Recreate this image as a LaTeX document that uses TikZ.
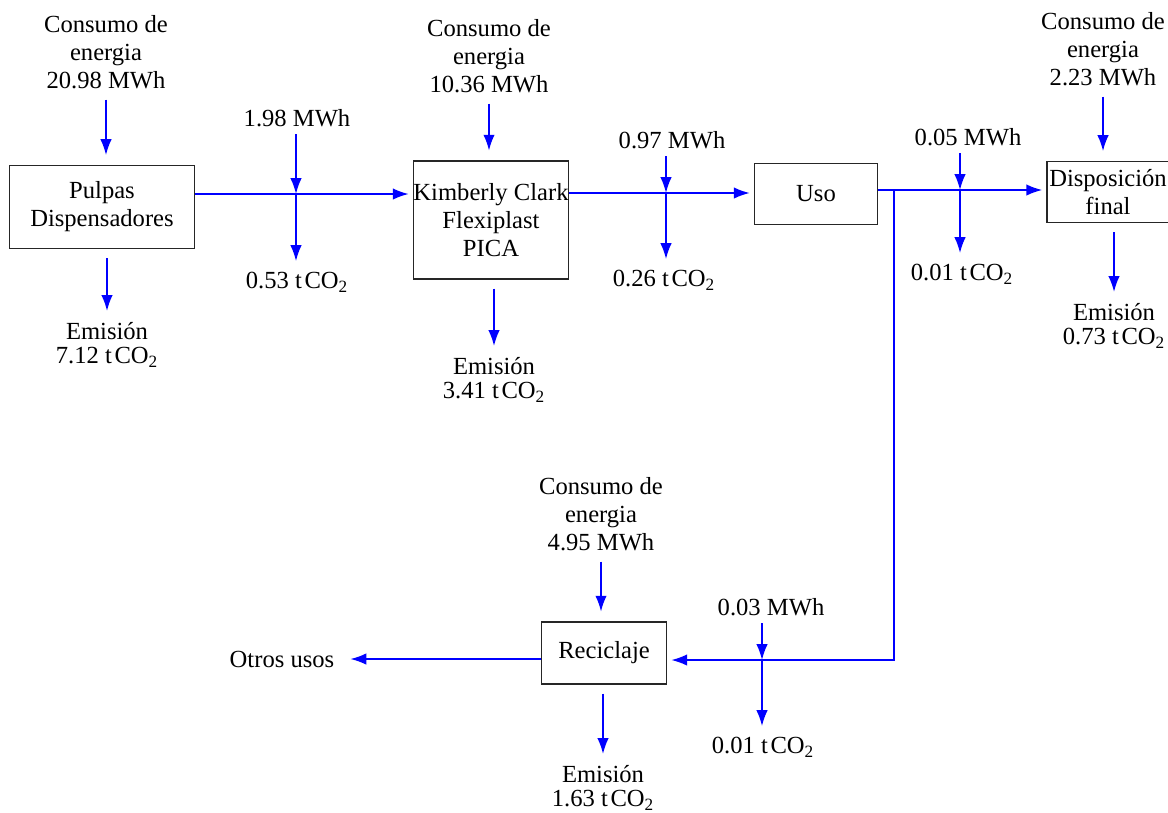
\documentclass[tikz,border=0pt]{standalone}
\usepackage{fontspec}
\setmainfont{Liberation Serif}
\usetikzlibrary{arrows.meta}

\newcommand{\tco}{t\kern1.5pt CO\textsubscript{2}}

\begin{document}
\begin{tikzpicture}[
  x=0.02cm, y=-0.02cm,
  font=\fontsize{14}{16}\selectfont,
  box/.style={draw=black!85, line width=0.9pt, align=center, inner sep=0pt},
  lbl/.style={align=center, inner sep=1pt},
  emis/.style={align=center, inner sep=1pt, font=\fontsize{14}{13.5}\selectfont},
  flow/.style={-{Latex[length=9pt,width=6.5pt]}, blue, line width=0.9pt},
  inp/.style={flow, shorten <=5pt, shorten >=5.5pt},
]
  \useasboundingbox (0,0) rectangle (1168,812);

  % procesos
  \node[box, minimum width=3.7cm, minimum height=1.66cm] (pulp) at (102,207) {Pulpas\\Dispensadores};
  \node[box, minimum width=3.06cm, minimum height=2.36cm] (kc) at (491,220) {Kimberly Clark\\Flexiplast\\PICA};
  \node[box, minimum width=2.46cm, minimum height=1.22cm] (uso) at (816,194) {Uso};
  \node[box, minimum width=2.44cm, minimum height=1.22cm] (disp) at (1108,192) {Disposición\\final};
  \node[box, minimum width=2.5cm, minimum height=1.24cm] (rec) at (604,653) {Reciclaje};

  % consumo de energia
  \node[lbl] (e1) at (106,52) {Consumo de\\energia\\20.98 MWh};
  \node[lbl] (e2) at (489,56) {Consumo de\\energia\\10.36 MWh};
  \node[lbl] (e4) at (1103,49) {Consumo de\\energia\\2.23 MWh};
  \node[lbl] (e5) at (601,514) {Consumo de\\energia\\4.95 MWh};

  % emisiones
  \node[emis] (m1) at (107,345) {Emisión\\7.12 \tco};
  \node[emis] (m2) at (494,380) {Emisión\\3.41 \tco};
  \node[emis] (m4) at (1114,326) {Emisión\\0.73 \tco};
  \node[emis] (m5) at (603,788) {Emisión\\1.63 \tco};

  % transporte
  \node[lbl] (i1) at (297,118) {1.98 MWh};
  \node[lbl] (o1) at (297,282) {0.53 \tco};
  \node[lbl] (i2) at (672,140) {0.97 MWh};
  \node[lbl] (o2) at (664,280) {0.26 \tco};
  \node[lbl] (i3) at (968,137) {0.05 MWh};
  \node[lbl] (o3) at (962,274) {0.01 \tco};
  \node[lbl] (i4) at (771,607) {0.03 MWh};
  \node[lbl] (o4) at (763,747) {0.01 \tco};
  \node[lbl] (otros) at (282,659) {Otros usos};

  \coordinate (j1) at (296,194);
  \coordinate (j2) at (666,193);
  \coordinate (j3) at (960,190);
  \coordinate (br) at (894,190);
  \coordinate (br2) at (894,660);
  \coordinate (j4) at (762,660);

  % flujos principales
  \draw[flow, shorten >=2.3pt] (pulp.east |- j1) -- (kc.west |- j1);
  \draw[flow, shorten >=2.3pt] (kc.east |- j2) -- (uso.west |- j2);
  \draw[flow, shorten >=2.3pt] (uso.east |- j3) -- (disp.west |- j3);
  \draw[flow, shorten >=2.3pt] (br) -- (br2) -- (rec.east |- br2);
  \draw[flow, shorten >=8pt] (rec.west |- otros) -- (otros.east);

  % entradas y salidas
  \draw[inp] (e1.south) -- (e1.south |- pulp.north);
  \draw[inp] (e2.south) -- (e2.south |- kc.north);
  \draw[inp] (e4.south) -- (e4.south |- disp.north);
  \draw[inp] (e5.south) -- (e5.south |- rec.north);
  \draw[inp] (pulp.south -| m1.north) -- (m1.north);
  \draw[inp] (kc.south -| m2.north) -- (m2.north);
  \draw[inp] (disp.south -| m4.north) -- (m4.north);
  \draw[inp] (rec.south -| m5.north) -- (m5.north);

  % cruces
  \foreach \i/\j/\o in {i1/j1/o1, i2/j2/o2, i3/j3/o3, i4/j4/o4} {
    \draw[flow, shorten <=3pt] (\i.south -| \j) -- (\j);
    \draw[flow, shorten >=5pt] (\j) -- (\o.north -| \j);
  }
\end{tikzpicture}
\end{document}
